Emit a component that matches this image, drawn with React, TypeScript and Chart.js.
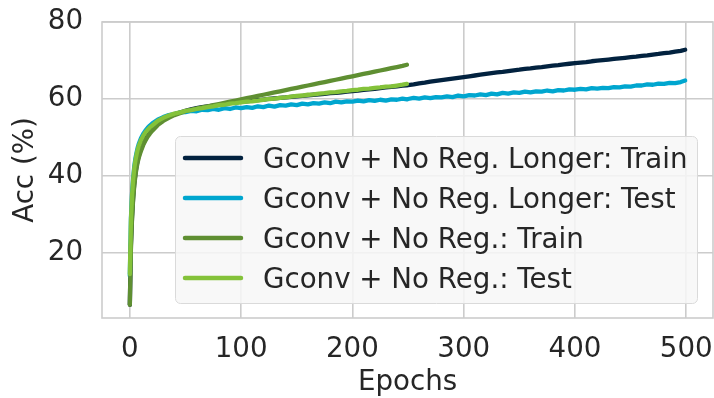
import React, { useEffect, useRef } from 'react';
import { Chart, registerables } from 'chart.js';

Chart.register(...registerables);

// ---------- data ----------
const epochs = [
  0, 1, 2, 3, 4, 5, 6, 7, 8, 10, 12, 14, 16, 18, 20,
  25, 30, 35, 40, 45, 50, 55, 60, 65, 70, 75, 80, 85, 90, 95, 100,
  105, 110, 115, 120, 125, 130, 135, 140, 145, 150, 155, 160, 165, 170, 175,
  180, 185, 190, 195, 200, 205, 210, 215, 220, 225, 230, 235, 240, 245, 249,
  250, 255, 260, 265, 270, 275, 280, 285, 290, 295, 300, 305, 310, 315, 320,
  325, 330, 335, 340, 345, 350, 355, 360, 365, 370, 375, 380, 385, 390, 395,
  400, 405, 410, 415, 420, 425, 430, 435, 440, 445, 450, 455, 460, 465, 470,
  475, 480, 485, 490, 495, 499,
];

const longTrain = [
  6.5, 22, 29.5, 34.5, 38, 40.5, 42.5, 44, 45.2, 47, 48.4, 49.6, 50.6, 51.4, 52.1,
  53.5, 54.6, 55.4, 56.0, 56.5, 56.9, 57.3, 57.6, 57.9, 58.1, 58.3, 58.5, 58.7, 58.9, 59.1, 59.3,
  59.4, 59.55, 59.7, 59.85, 60.0, 60.15, 60.3, 60.4, 60.55, 60.7, 60.8, 60.95, 61.1, 61.2, 61.35,
  61.5, 61.6, 61.75, 61.9, 62.05, 62.2, 62.35, 62.5, 62.65, 62.85, 63.0, 63.15, 63.3, 63.45, 63.55,
  63.6, 63.8, 64.05, 64.25, 64.5, 64.7, 64.9, 65.1, 65.3, 65.5, 65.7, 65.9, 66.1, 66.3, 66.5,
  66.7, 66.9, 67.05, 67.25, 67.45, 67.6, 67.8, 67.95, 68.15, 68.3, 68.5, 68.65, 68.8, 69.0, 69.15,
  69.3, 69.45, 69.6, 69.8, 69.95, 70.1, 70.25, 70.4, 70.55, 70.7, 70.85, 71.0, 71.2, 71.35, 71.55,
  71.7, 71.9, 72.05, 72.3, 72.5, 72.8,
];

const longTest = [
  14, 29, 35.5, 39.5, 42.5, 44.5, 46, 47.3, 48.3, 49.8, 50.9, 51.8, 52.5, 53.1, 53.6,
  54.6, 55.3, 55.8, 56.1, 56.5, 56.6, 56.9, 56.8, 57.2, 57.1, 57.4, 57.2, 57.6, 57.4, 57.8, 57.6,
  57.9, 57.7, 58.1, 57.9, 58.3, 58.0, 58.4, 58.3, 58.6, 58.4, 58.8, 58.6, 58.9, 58.8, 59.1,
  58.9, 59.3, 59.1, 59.4, 59.3, 59.6, 59.4, 59.7, 59.5, 59.8, 59.6, 59.9, 59.8, 60.1, 59.9,
  60.0, 60.3, 60.1, 60.4, 60.2, 60.5, 60.4, 60.7, 60.5, 60.9, 60.7, 61.0, 60.9, 61.2, 61.0,
  61.4, 61.2, 61.6, 61.4, 61.7, 61.6, 61.9, 61.7, 62.0, 61.9, 62.2, 62.0, 62.3, 62.2, 62.5,
  62.4, 62.6, 62.5, 62.8, 62.7, 62.9, 62.8, 63.1, 63.0, 63.3, 63.2, 63.5, 63.5, 63.8, 63.7,
  64.0, 63.9, 64.2, 64.1, 64.4, 64.8,
];

const shortTrain = [
  6.5, 21.5, 29, 34, 37.5, 40, 42, 43.5, 44.7, 46.5, 48, 49.2, 50.2, 51, 51.7,
  53.2, 54.3, 55.1, 55.8, 56.3, 56.8, 57.2, 57.5, 57.8, 58.1, 58.4, 58.7, 59.0, 59.3, 59.6, 59.9,
  60.2, 60.5, 60.8, 61.1, 61.4, 61.7, 62.0, 62.3, 62.6, 62.9, 63.2, 63.5, 63.8, 64.1, 64.4,
  64.7, 65.0, 65.3, 65.6, 65.9, 66.2, 66.5, 66.8, 67.1, 67.4, 67.7, 68.0, 68.3, 68.6, 68.9,
];

const shortTest = [
  14.5, 28.5, 35, 39, 42, 44, 45.5, 46.8, 47.8, 49.3, 50.4, 51.3, 52.0, 52.6, 53.1,
  54.3, 55.1, 55.7, 56.2, 56.5, 56.9, 57.1, 57.4, 57.6, 57.9, 58.1, 58.4, 58.5, 58.8, 58.9, 59.1,
  59.3, 59.4, 59.6, 59.8, 60.0, 60.1, 60.3, 60.4, 60.6, 60.8, 60.9, 61.1, 61.2, 61.4, 61.5,
  61.7, 61.8, 62.0, 62.1, 62.3, 62.4, 62.6, 62.7, 62.9, 63.0, 63.2, 63.3, 63.5, 63.7, 63.9,
];

const seriesLabels = [
  'Gconv + No Reg. Longer: Train',
  'Gconv + No Reg. Longer: Test',
  'Gconv + No Reg.: Train',
  'Gconv + No Reg.: Test',
];
const seriesColors = ['#02223f', '#00a6cf', '#5f8f32', '#84c23a'];

const xTicks = [0, 100, 200, 300, 400, 500];
const yTicks = [20, 40, 60, 80];

// ---------- styling ----------
const FONT = '"DejaVu Sans", sans-serif';
const FS = 27.7;
const TEXT = '#262626';
const GRID = '#cccccc';

function toPoints(values: number[]) {
  return values.map((v, i) => ({ x: epochs[i], y: v }));
}

function roundRectPath(ctx: CanvasRenderingContext2D, x: number, y: number, w: number, h: number, r: number) {
  ctx.beginPath();
  ctx.moveTo(x + r, y);
  ctx.lineTo(x + w - r, y);
  ctx.arcTo(x + w, y, x + w, y + r, r);
  ctx.lineTo(x + w, y + h - r);
  ctx.arcTo(x + w, y + h, x + w - r, y + h, r);
  ctx.lineTo(x + r, y + h);
  ctx.arcTo(x, y + h, x, y + h - r, r);
  ctx.lineTo(x, y + r);
  ctx.arcTo(x, y, x + r, y, r);
  ctx.closePath();
}

function zeroPadding(s: any) {
  s.paddingLeft = 0;
  s.paddingRight = 0;
  s.paddingTop = 0;
  s.paddingBottom = 0;
}

const framePlugin = {
  id: 'frame',
  beforeDatasetsDraw(chart: any) {
    const { ctx, chartArea } = chart;
    ctx.save();
    ctx.strokeStyle = GRID;
    ctx.lineWidth = 1.6;
    ctx.strokeRect(chartArea.left, chartArea.top, chartArea.right - chartArea.left, chartArea.bottom - chartArea.top);
    ctx.restore();
  },
};

const legendPlugin = {
  id: 'innerLegend',
  afterDatasetsDraw(chart: any) {
    const ctx: CanvasRenderingContext2D = chart.ctx;
    ctx.save();
    roundRectPath(ctx, 175.5, 136.5, 522, 167, 5);
    ctx.fillStyle = 'rgba(247,247,247,0.85)';
    ctx.fill();
    ctx.strokeStyle = '#dadada';
    ctx.lineWidth = 1;
    ctx.stroke();
    ctx.font = `${FS}px ${FONT}`;
    ctx.textBaseline = 'alphabetic';
    ctx.textAlign = 'left';
    chart.data.datasets.forEach((ds: any, i: number) => {
      const y = 158 + 40 * i;
      ctx.beginPath();
      ctx.moveTo(185, y);
      ctx.lineTo(241, y);
      ctx.strokeStyle = ds.borderColor;
      ctx.lineWidth = 4.5;
      ctx.lineCap = 'round';
      ctx.stroke();
      ctx.fillStyle = TEXT;
      ctx.fillText(ds.label, 263, y + 10);
    });
    ctx.restore();
  },
};

export default function App() {
  const canvasRef = useRef<HTMLCanvasElement | null>(null);

  useEffect(() => {
    if (!canvasRef.current) return;
    const allSeries = [longTrain, longTest, shortTrain, shortTest];
    const chart = new Chart(canvasRef.current, {
      type: 'line',
      data: {
        datasets: allSeries.map((vals, i) => ({
          label: seriesLabels[i],
          data: toPoints(vals),
          borderColor: seriesColors[i],
          backgroundColor: seriesColors[i],
          borderWidth: 4.3,
          pointRadius: 0,
          tension: 0,
          fill: false,
          borderCapStyle: 'round' as const,
          borderJoinStyle: 'round' as const,
          order: 4 - i,
        })),
      },
      options: {
        animation: false,
        responsive: false,
        maintainAspectRatio: false,
        layout: { padding: { top: 22, right: 1, left: 0, bottom: 0 } },
        plugins: {
          legend: { display: false },
          tooltip: { enabled: false },
          title: { display: false },
        },
        scales: {
          x: {
            type: 'linear',
            min: -25,
            max: 524,
            afterBuildTicks: (s: any) => {
              s.ticks = xTicks.map((v) => ({ value: v }));
            },
            afterFit: (s: any) => {
              s.height = 80;
              zeroPadding(s);
            },
            grid: { color: GRID, lineWidth: 1.6, drawTicks: false },
            border: { display: false },
            ticks: {
              color: TEXT,
              font: { family: FONT, size: FS },
              padding: 15,
              maxRotation: 0,
              autoSkip: false,
            },
            title: {
              display: true,
              text: 'Epochs',
              color: TEXT,
              font: { family: FONT, size: FS, lineHeight: 1 },
              padding: { top: 0, bottom: 1.5 },
            },
          },
          y: {
            type: 'linear',
            min: 3.1,
            max: 80,
            afterBuildTicks: (s: any) => {
              s.ticks = yTicks.map((v) => ({ value: v }));
            },
            afterFit: (s: any) => {
              s.width = 102;
              zeroPadding(s);
            },
            grid: { color: GRID, lineWidth: 1.6, drawTicks: false },
            border: { display: false },
            ticks: {
              color: TEXT,
              font: { family: FONT, size: FS },
              padding: 19,
              autoSkip: false,
            },
            title: {
              display: true,
              text: 'Acc (%)',
              color: TEXT,
              font: { family: FONT, size: FS, lineHeight: 1 },
              padding: { top: 12, bottom: 0 },
            },
          },
        },
      },
      plugins: [framePlugin, legendPlugin],
    });
    return () => chart.destroy();
  }, []);

  return (
    <div style={{ position: 'absolute', left: 0, top: 0, width: 714, height: 398, background: '#fff' }}>
      <canvas ref={canvasRef} width={714} height={398} style={{ width: 714, height: 398, display: 'block' }} />
    </div>
  );
}
